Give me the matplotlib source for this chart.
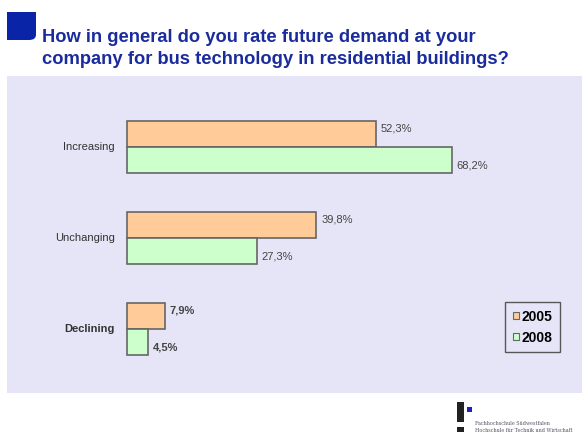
import matplotlib
matplotlib.use("Agg")
import matplotlib.pyplot as plt
from matplotlib.patches import Rectangle, FancyBboxPatch

categories = ["Increasing", "Unchanging", "Declining"]
years = ["2005", "2008"]
values_2005 = [52.3, 39.8, 7.9]
values_2008 = [68.2, 27.3, 4.5]
labels_2005 = ["52,3%", "39,8%", "7,9%"]
labels_2008 = ["68,2%", "27,3%", "4,5%"]

W, H = 582, 437
BG = "#e5e5f7"
ORANGE = "#ffcc99"
GREEN = "#ccffcc"
TITLE_BLUE = "#1a2c9c"

plt.rcParams["font.family"] = ["Liberation Sans", "DejaVu Sans"]

fig = plt.figure(figsize=(W / 100, H / 100), dpi=100)
fig.patch.set_facecolor("white")


def fx(px):
    return px / W


def fy(py):
    return 1 - py / H


# blue corner block and title
fig.patches.append(FancyBboxPatch((fx(7), fy(40)), fx(29), 28 / H,
                                  boxstyle="round,pad=0,rounding_size=0.012",
                                  transform=fig.transFigure, facecolor="#0a24a8",
                                  edgecolor="none"))
fig.patches.append(Rectangle((fx(7), fy(40)), fx(14), 28 / H,
                             transform=fig.transFigure, facecolor="#0a24a8"))
fig.patches.append(Rectangle((fx(7), fy(26)), fx(29), 14 / H,
                             transform=fig.transFigure, facecolor="#0a24a8"))
fig.text(fx(42), fy(42), "How in general do you rate future demand at your",
         fontsize=13.2, weight="bold", color=TITLE_BLUE, va="baseline")
fig.text(fx(42), fy(64), "company for bus technology in residential buildings?",
         fontsize=13.2, weight="bold", color=TITLE_BLUE, va="baseline")

# plot area (lavender panel)
ax = fig.add_axes([fx(7), fy(393), fx(582 - 7), (393 - 76) / H])
ax.set_facecolor(BG)
for spine in ax.spines.values():
    spine.set_visible(False)

px_per_pct = 4.76
ax.set_xlim(-(127 - 7) / px_per_pct, (582 - 127) / px_per_pct)
group_px = 91
ax.set_ylim(2 + (393 - 329) / group_px, -(147 - 76) / group_px)
bar_h = 26 / group_px

ypos = list(range(len(categories)))
ax.barh([y - bar_h / 2 for y in ypos], values_2005, height=bar_h,
        color=ORANGE, edgecolor="#666666", linewidth=1.2, label=years[0])
ax.barh([y + bar_h / 2 for y in ypos], values_2008, height=bar_h,
        color=GREEN, edgecolor="#666666", linewidth=1.2, label=years[1])

for i, y in enumerate(ypos):
    bold = "bold" if categories[i] == "Declining" else "normal"
    ax.text(values_2005[i] + 1.0, y - bar_h / 2 - 0.06, labels_2005[i],
            fontsize=8, color="#444444", va="center", weight=bold)
    ax.text(values_2008[i] + 1.0, y + bar_h / 2 + 0.06, labels_2008[i],
            fontsize=8, color="#444444", va="center", weight=bold)
    ax.text(-2.5, y, categories[i], fontsize=8, color="#333333",
            ha="right", va="center", weight=bold)

ax.set_xticks([])
ax.set_yticks([])

leg = ax.legend(loc="upper left", bbox_to_anchor=(fx(505), fy(302)),
                bbox_transform=fig.transFigure, frameon=True, fancybox=False,
                handlelength=0.45, handleheight=0.45, handletextpad=0.2,
                borderpad=0.55, labelspacing=0.5, borderaxespad=0,
                prop={"weight": "bold", "size": 10})
leg.get_frame().set_edgecolor("#333333")
leg.get_frame().set_facecolor(BG)
leg.get_frame().set_linewidth(1.0)
for handle in leg.legend_handles:
    handle.set_linewidth(0.8)

# logo at bottom right
fig.patches.append(Rectangle((fx(457), fy(422)), fx(7), 20 / H,
                             transform=fig.transFigure, facecolor="#222222"))
fig.patches.append(Rectangle((fx(457), fy(432)), fx(7), 5 / H,
                             transform=fig.transFigure, facecolor="#222222"))
fig.patches.append(Rectangle((fx(467), fy(412)), fx(5), 5 / H,
                             transform=fig.transFigure, facecolor="#2020c0"))
fig.text(fx(475), fy(425), "Fachhochschule Südwestfalen", fontsize=3.5,
         color="#556", family="DejaVu Serif")
fig.text(fx(475), fy(432), "Hochschule für Technik und Wirtschaft", fontsize=3.5,
         color="#556", family="DejaVu Serif")

fig.savefig("out.png", dpi=100)
